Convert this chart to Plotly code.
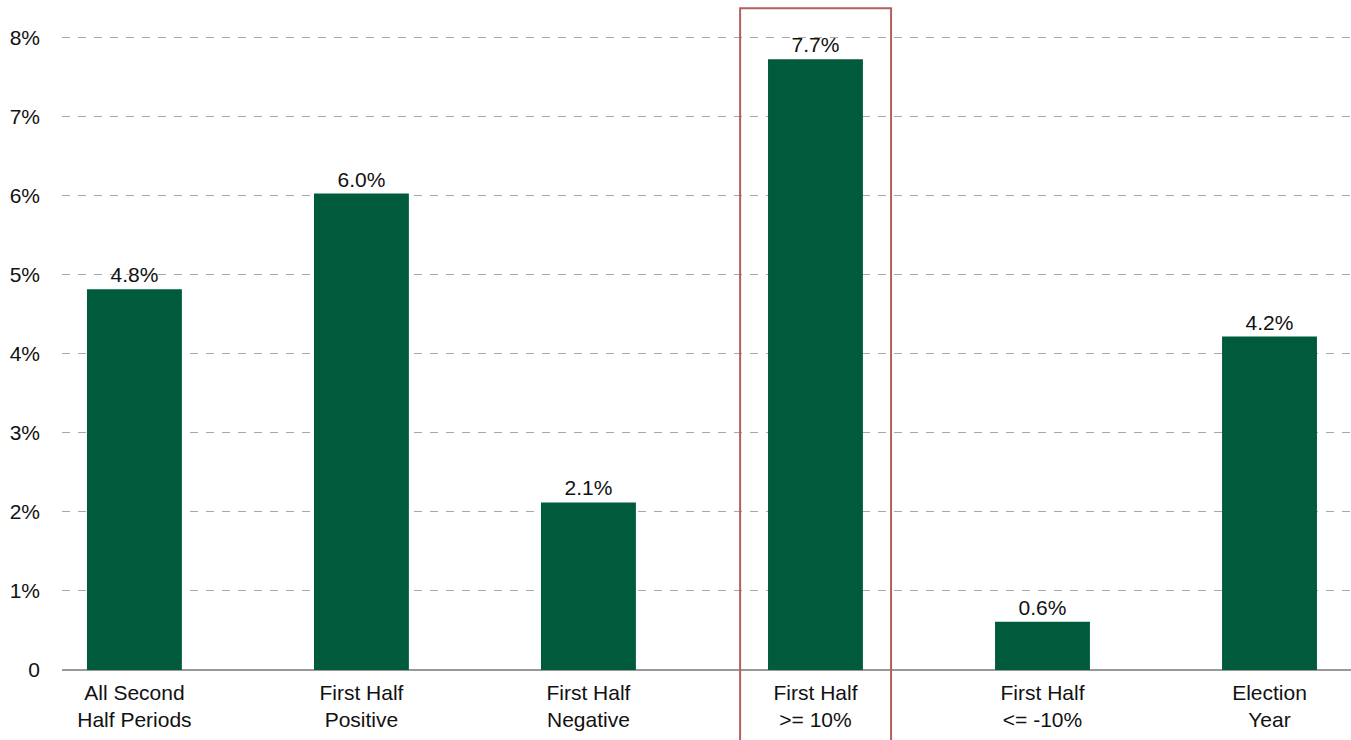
import plotly.graph_objects as go

categories = ["All Second<br>Half Periods", "First Half<br>Positive", "First Half<br>Negative",
              "First Half<br>>= 10%", "First Half<br><= -10%", "Election<br>Year"]
values = [4.82, 6.03, 2.12, 7.73, 0.61, 4.22]
labels = ["4.8%", "6.0%", "2.1%", "7.7%", "0.6%", "4.2%"]
y_ticks = [0, 1, 2, 3, 4, 5, 6, 7, 8]
y_ticktext = ["0", "1%", "2%", "3%", "4%", "5%", "6%", "7%", "8%"]
highlight_index = 3

FONT = "Liberation Sans, Arial, sans-serif"
x_idx = list(range(len(categories)))

fig = go.Figure(go.Bar(
    x=x_idx, y=values, text=labels, textposition="outside",
    textfont=dict(size=21, color="#111", family=FONT),
    marker=dict(color="#005a3c", line=dict(width=0)),
    cliponaxis=False, hoverinfo="skip",
))

fig.add_shape(type="rect", xref="x", yref="paper",
              x0=highlight_index - 0.332, x1=highlight_index + 0.333,
              y0=-0.115, y1=1.034,
              line=dict(color="#b55e5e", width=2), fillcolor="rgba(0,0,0,0)", layer="above")

fig.update_layout(
    width=1351, height=740,
    margin=dict(l=62, r=0, t=30, b=70),
    plot_bgcolor="white", paper_bgcolor="white",
    bargap=0.582, showlegend=False,
    font=dict(family=FONT, size=21, color="#111"),
    xaxis=dict(tickmode="array", tickvals=x_idx, ticktext=categories,
               range=[-0.319, 5.359], showgrid=False, zeroline=False,
               showline=False, ticks="", ticklabelstandoff=8, tickfont=dict(size=21)),
    yaxis=dict(range=[0, 8.1], tickmode="array", tickvals=y_ticks, ticktext=y_ticktext,
               showgrid=True, gridcolor="#a8a8a8", griddash="8px,8px", gridwidth=1.3,
               zeroline=True, zerolinecolor="#999", zerolinewidth=2,
               showline=False, ticks="", ticklabelstandoff=21, tickfont=dict(size=21)),
)

fig.write_html("out.html")
